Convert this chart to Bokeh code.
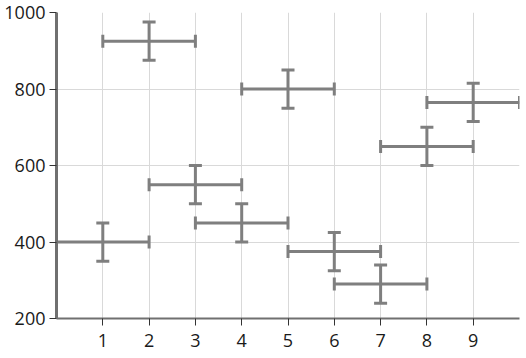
from bokeh.plotting import figure
from bokeh.models import ColumnDataSource, Whisker, TeeHead, FixedTicker, Range1d
from bokeh.embed import file_html
from bokeh.resources import INLINE

x = [1, 2, 3, 4, 5, 6, 7, 8, 9]
y = [400, 925, 550, 450, 800, 375, 290, 650, 765]
x_err = [1, 1, 1, 1, 1, 1, 1, 1, 1]
y_err = [50, 50, 50, 50, 50, 50, 50, 50, 50]
x_ticks = [1, 2, 3, 4, 5, 6, 7, 8, 9]
y_ticks = [200, 400, 600, 800, 1000]

src = ColumnDataSource(dict(
    x=x, y=y,
    xl=[a - e for a, e in zip(x, x_err)], xu=[a + e for a, e in zip(x, x_err)],
    yl=[a - e for a, e in zip(y, y_err)], yu=[a + e for a, e in zip(y, y_err)],
))

p = figure(width=526, height=358, output_backend="svg", toolbar_location=None,
           x_range=Range1d(0, 10), y_range=Range1d(200, 1000),
           min_border_left=56, min_border_right=7, min_border_top=12, min_border_bottom=40)
p.outline_line_color = None
p.background_fill_color = "white"
p.border_fill_color = "white"

col = "#7f7f7f"
for dim, base, lo, up in (("width", "y", "xl", "xu"), ("height", "x", "yl", "yu")):
    w = Whisker(source=src, base=base, lower=lo, upper=up, dimension=dim,
                line_color=col, line_width=3,
                lower_head=TeeHead(size=13, line_color=col, line_width=3),
                upper_head=TeeHead(size=13, line_color=col, line_width=3))
    p.add_layout(w)

p.xaxis.ticker = FixedTicker(ticks=x_ticks)
p.yaxis.ticker = FixedTicker(ticks=y_ticks)
p.xgrid.ticker = FixedTicker(ticks=[0, 1, 2, 3, 4, 5, 6, 7, 8, 9, 10])
p.ygrid.ticker = FixedTicker(ticks=y_ticks)
p.grid.grid_line_color = "#d9d9d9"
p.grid.grid_line_width = 1

for ax in (p.xaxis, p.yaxis):
    ax.axis_line_color = "#707070"
    ax.major_tick_line_color = "#333333"
    ax.major_tick_line_width = 1
    ax.major_tick_out = 7
    ax.major_tick_in = 0
    ax.minor_tick_line_color = None
    ax.major_label_text_font = "Open Sans"
    ax.major_label_text_font_size = "18px"
    ax.major_label_text_color = "#1a1a1a"
p.yaxis.axis_line_width = 3
p.xaxis.axis_line_width = 2
p.yaxis.major_label_standoff = 4
p.xaxis.major_label_standoff = 8

open("out.html", "w").write(file_html(p, INLINE))
